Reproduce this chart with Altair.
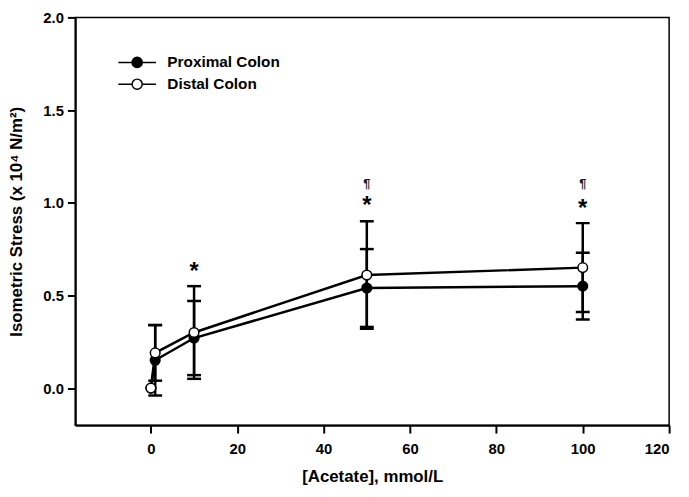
import altair as alt
import pandas as pd

# ---- data ----
acetate = [0, 1, 10, 50, 100]
series_names = ["Proximal Colon", "Distal Colon"]
proximal_mean = [0.0, 0.15, 0.27, 0.54, 0.55]
proximal_se = [0.0, 0.19, 0.20, 0.21, 0.18]
distal_mean = [0.0, 0.19, 0.30, 0.61, 0.65]
distal_se = [0.0, 0.15, 0.25, 0.29, 0.24]

star_x = [10, 50, 100]
star_y = [0.64, 1.00, 0.98]
para_x = [50, 100]
para_y = [1.10, 1.10]

x_ticks = [0, 20, 40, 60, 80, 100, 120]
y_ticks = [0.0, 0.5, 1.0, 1.5, 2.0]

rows = []
for name, means, ses in [
    (series_names[0], proximal_mean, proximal_se),
    (series_names[1], distal_mean, distal_se),
]:
    for x, m, s in zip(acetate, means, ses):
        rows.append({"x": x, "series": name, "mean": m, "lo": m - s, "hi": m + s, "se": s})
df = pd.DataFrame(rows)
df_err = df[df["se"] > 0]

stars = pd.DataFrame({"x": star_x, "y": star_y})
paras = pd.DataFrame({"x": para_x, "y": para_y})

FONT = "Liberation Sans"

xscale = alt.Scale(domain=[-17.5, 120], nice=False, zero=False, padding=0)
yscale = alt.Scale(domain=[-0.2, 2.0], nice=False, zero=False, padding=0)

X = alt.X(
    "x:Q",
    scale=xscale,
    axis=alt.Axis(
        title="[Acetate], mmol/L",
        values=x_ticks,
        grid=False,
        labelPadding=9,
        titlePadding=12,
        titleFontSize=17,
    ),
)

# legend symbol: a line with a circle in the middle (path spans -2..2)
legend_path = (
    "M-2,0H-0.54 M0.54,0H2 "
    "M-0.54,0A0.54,0.54 0 1,0 0.54,0A0.54,0.54 0 1,0 -0.54,0Z"
)

lines = alt.Chart(df).mark_line(color="black", strokeWidth=2.5).encode(
    x=X,
    y=alt.Y(
        "mean:Q",
        scale=yscale,
        axis=alt.Axis(
            title="Isometric Stress (x 10⁴ N/m²)",
            values=y_ticks,
            format=".1f",
            grid=False,
            labelPadding=4,
            titlePadding=17,
            titleFontSize=17,
        ),
    ),
    detail="series:N",
)

err = alt.Chart(df_err).mark_rule(color="black", strokeWidth=2.5).encode(
    x="x:Q", y="lo:Q", y2="hi:Q"
)
cap_hi = alt.Chart(df_err).mark_tick(
    color="black", orient="horizontal", size=14, thickness=2.5, opacity=1
).encode(x="x:Q", y="hi:Q")
cap_lo = alt.Chart(df_err).mark_tick(
    color="black", orient="horizontal", size=14, thickness=2.5, opacity=1
).encode(x="x:Q", y="lo:Q")

points = alt.Chart(df).mark_point(
    shape="circle", size=95, filled=True, stroke="black", strokeWidth=1.5, opacity=1
).encode(
    x="x:Q",
    y="mean:Q",
    fill=alt.Fill(
        "series:N",
        scale=alt.Scale(domain=series_names, range=["black", "white"]),
        sort=series_names,
        legend=alt.Legend(
            title=None,
            orient="none",
            legendX=52,
            legendY=35,
            symbolType=legend_path,
            symbolSize=361,
            symbolStrokeColor="black",
            symbolStrokeWidth=1.5,
            labelFont=FONT,
            labelFontSize=15.5,
            labelFontWeight="bold",
            labelColor="black",
            labelOffset=20,
            rowPadding=3,
            padding=0,
        ),
    ),
    order=alt.Order("series:N", sort="descending"),
)

star_text = alt.Chart(stars).mark_text(
    text="*", fontSize=24, fontWeight="bold", font=FONT, color="black", baseline="middle", dy=3
).encode(x="x:Q", y="y:Q")
para_text = alt.Chart(paras).mark_text(
    text="¶", fontSize=13, fontWeight="bold", font=FONT, color="#222222", baseline="middle"
).encode(x="x:Q", y="y:Q")

chart = (
    alt.layer(lines, err, cap_hi, cap_lo, points, star_text, para_text)
    .properties(
        width=600,
        height=412,
        autosize=alt.AutoSizeParams(type="none"),
        padding={"left": 68, "top": 7, "right": 12, "bottom": 62},
    )
    .configure_view(stroke="black", strokeWidth=1.5)
    .configure_axis(
        domainColor="black",
        domainWidth=2,
        tickColor="black",
        tickWidth=2,
        tickSize=8,
        labelFont=FONT,
        labelFontSize=15,
        labelFontWeight="bold",
        labelColor="black",
        titleFont=FONT,
        titleFontSize=17,
        titleFontWeight="bold",
        titleColor="black",
    )
)

chart.save("out.html", embed_options={"renderer": "svg", "actions": False})
